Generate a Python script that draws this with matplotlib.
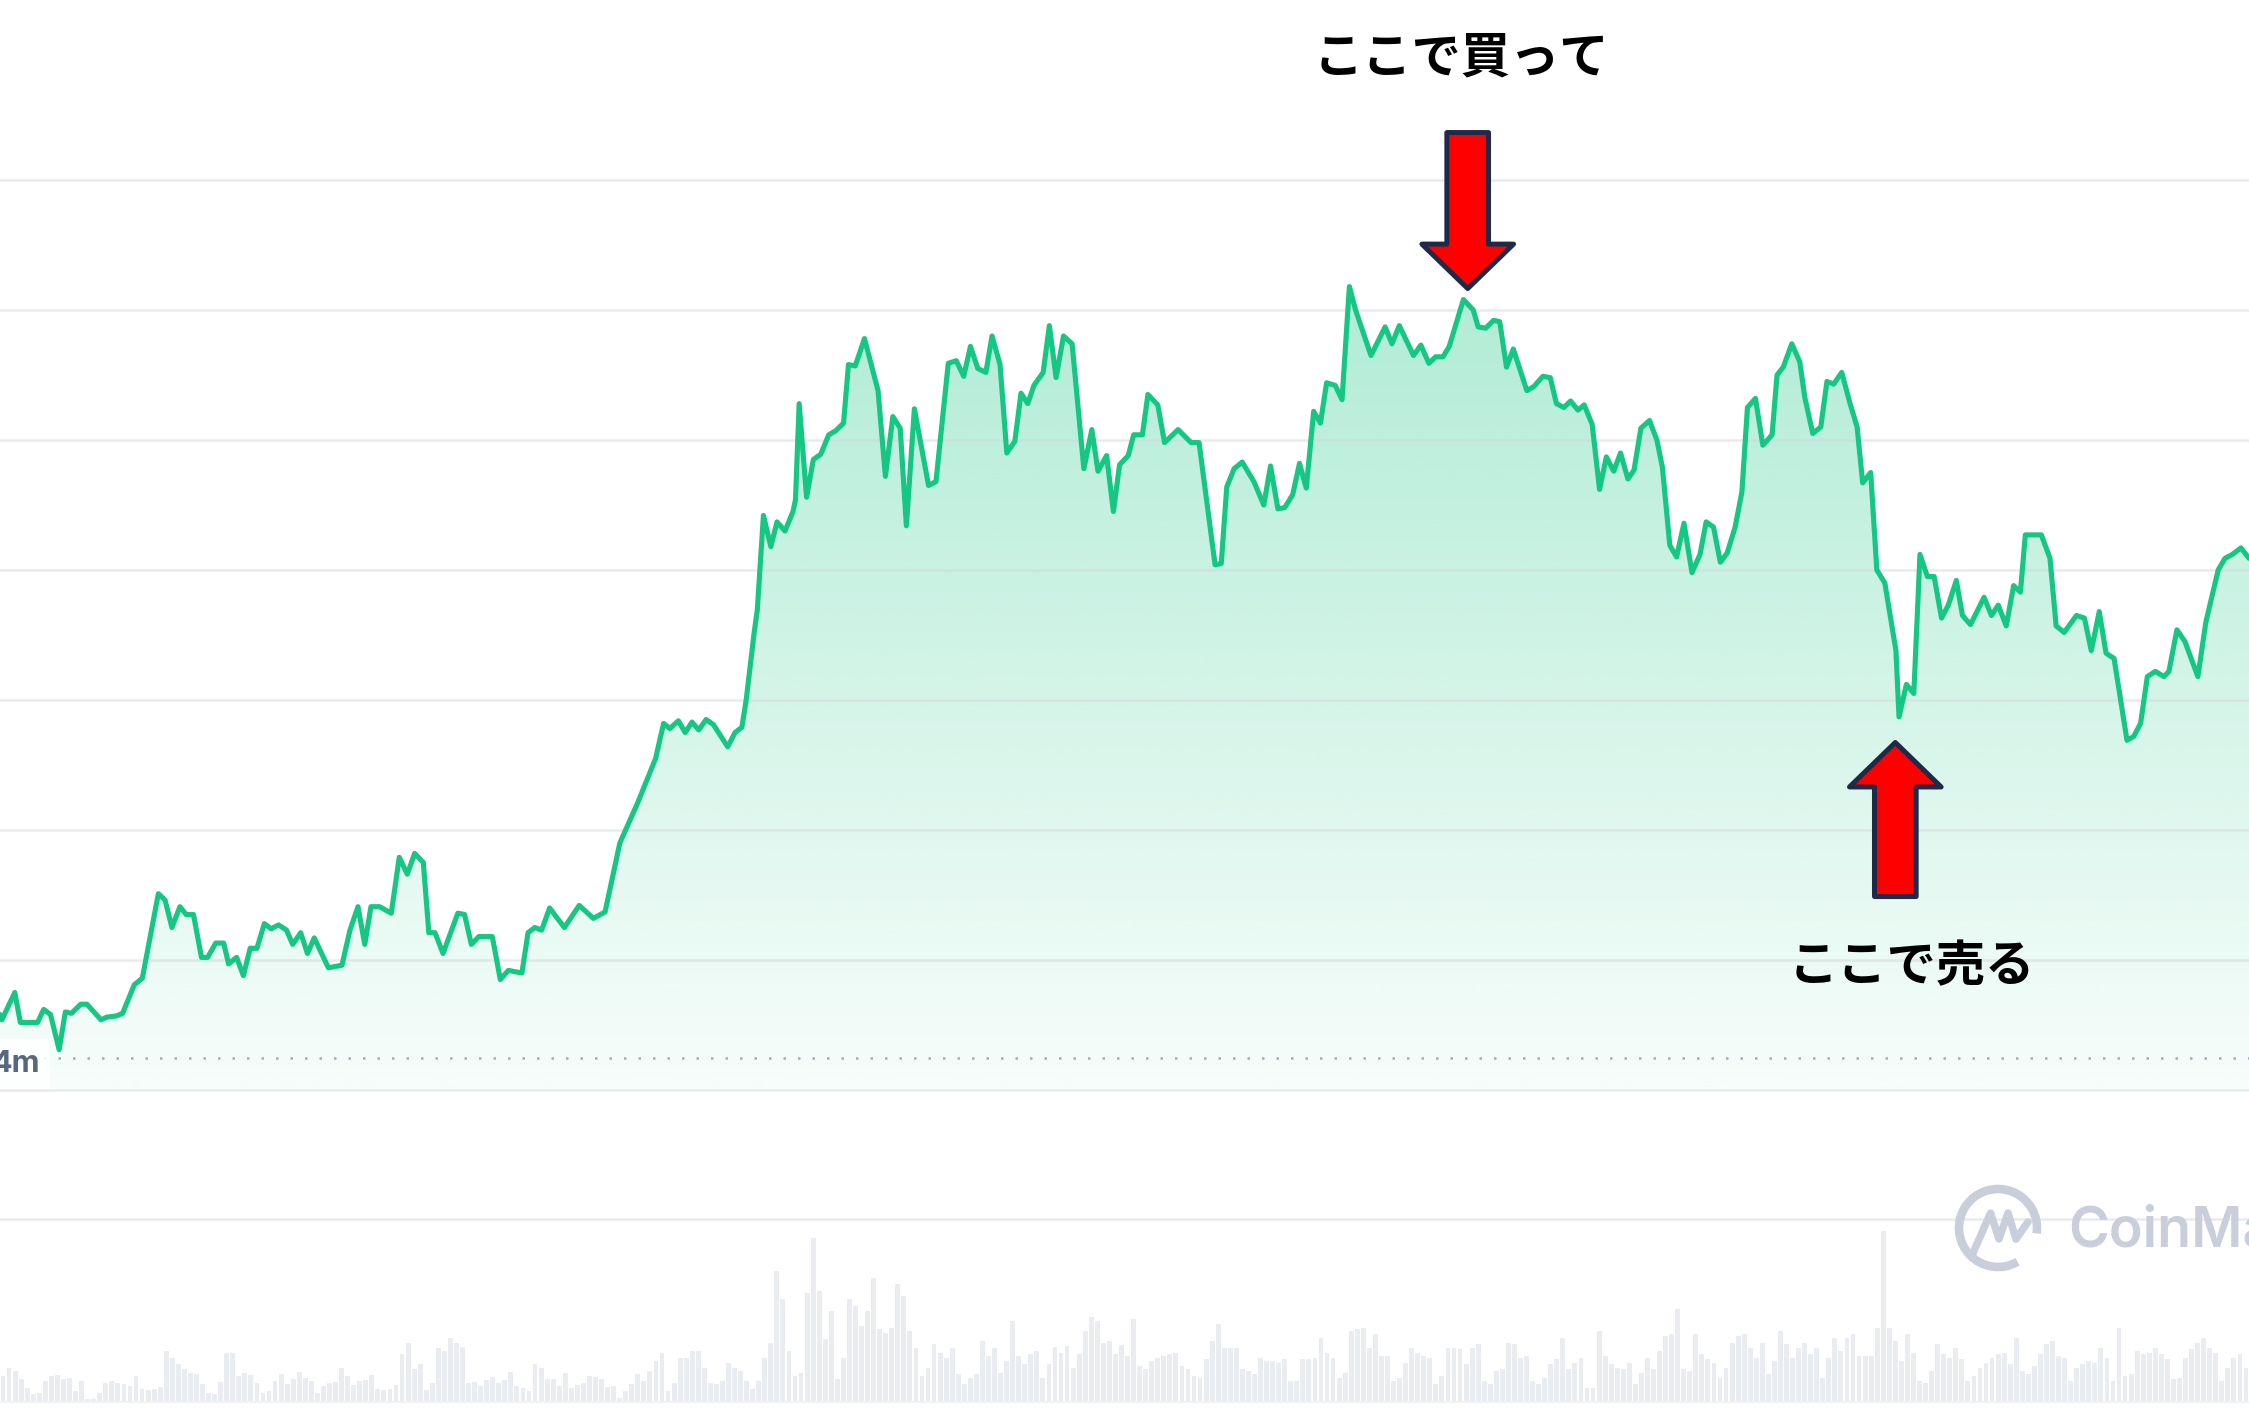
import numpy as np
import matplotlib
matplotlib.use("Agg")
import matplotlib.pyplot as plt
import matplotlib.transforms as mtransforms
from matplotlib.patches import Arc
from matplotlib.colors import to_rgb

plt.rcParams["font.family"] = ["Noto Sans CJK JP", "DejaVu Sans"]

# ---- price line (day index, price; grid lines every 1.0) ----
day = [0.0, 0.3, 2.4, 3.3, 6.1, 7.1, 8.2, 9.6, 10.6, 11.6, 13.1, 14.1, 16.4, 17.3, 18.9, 19.9,
       21.8, 23.1, 25.7, 26.8, 27.9, 29.2, 30.2, 31.4, 32.7, 33.7, 35.0, 36.3, 37.1, 38.4, 39.5,
       40.6, 41.7, 42.9, 44.0, 45.2, 46.5, 47.5, 48.8, 49.9, 51.0, 53.3, 55.5, 56.8, 58.1, 59.2,
       60.2, 61.6, 63.5, 64.8, 66.1, 67.3, 68.7, 69.6, 70.6, 71.9, 74.3, 75.4, 76.5, 77.7, 79.9,
       81.2, 82.5, 84.7, 85.7, 86.8, 87.9, 89.2, 91.6, 94.0, 96.3, 98.2, 100.6, 103.5, 106.4,
       107.7, 108.7, 110.1, 111.2, 112.3, 113.4, 114.6, 115.8, 118.1, 119.3, 120.4, 121.1, 122.4,
       122.9, 123.9, 125.1, 126.1, 127.4, 128.7, 129.1, 129.7, 130.9, 132.0, 133.2, 134.5, 135.6,
       136.9, 137.7, 138.8, 140.3, 142.5, 143.7, 144.9, 146.1, 147.1, 148.4, 150.7, 151.9, 153.9,
       155.2, 156.4, 157.5, 158.7, 160.0, 161.0, 162.3, 163.4, 164.7, 165.7, 166.8, 167.8, 169.3,
       170.3, 171.4, 172.6, 174.0, 175.9, 177.2, 178.2, 179.6, 180.7, 181.7, 183.1, 184.0, 185.4,
       186.3, 187.9, 189.0, 191.2, 193.3, 194.6, 197.2, 198.2, 199.1, 200.3, 201.6, 203.5, 205.1,
       206.2, 207.4, 208.5, 209.8, 210.9, 212.0, 213.2, 214.3, 215.3, 216.7, 217.8, 219.0, 220.0,
       222.5, 224.8, 225.9, 227.1, 229.4, 230.6, 231.9, 233.0, 234.2, 235.2, 237.5, 239.1, 239.9,
       241.1, 242.4, 243.4, 244.5, 245.6, 247.8, 248.9, 250.4, 251.6, 252.6, 253.8, 254.9, 256.1,
       257.1, 258.4, 259.6, 260.7, 261.9, 263.0, 264.2, 265.2, 266.3, 267.7, 268.9, 269.8, 271.0,
       272.1, 273.3, 274.6, 275.9, 276.9, 278.1, 279.2, 280.3, 281.6, 282.7, 283.6, 284.9, 286.1,
       287.6, 288.4, 289.4, 290.8, 292.1, 292.9, 294.2, 295.5, 296.5, 297.6, 298.9, 300.2, 301.4,
       302.3, 303.6, 304.6, 305.9, 307.7, 308.2, 309.4, 310.6, 311.6, 312.8, 313.9, 315.1, 316.2,
       317.5, 318.5, 319.8, 322.0, 323.2, 324.3, 325.6, 326.8, 327.9, 328.7, 331.3, 332.7, 333.7,
       335.0, 337.0, 338.3, 339.4, 340.7, 341.8, 343.1, 345.2, 346.3, 347.4, 348.5, 349.8, 351.2,
       352.0, 353.3, 354.6, 356.7, 358.0, 360.0, 361.1, 362.3, 363.7, 365.0]
price = [0.58, 0.54, 0.75, 0.52, 0.52, 0.62, 0.58, 0.31, 0.60, 0.59, 0.66, 0.66, 0.54, 0.56, 0.57, 0.59,
         0.81, 0.86, 1.51, 1.46, 1.25, 1.41, 1.35, 1.35, 1.02, 1.02, 1.13, 1.13, 0.97, 1.02, 0.88,
         1.09, 1.09, 1.28, 1.24, 1.27, 1.23, 1.12, 1.21, 1.05, 1.17, 0.94, 0.96, 1.23, 1.41, 1.12,
         1.41, 1.41, 1.36, 1.79, 1.66, 1.82, 1.75, 1.21, 1.21, 1.05, 1.36, 1.35, 1.12, 1.18, 1.18,
         0.85, 0.92, 0.90, 1.21, 1.25, 1.23, 1.40, 1.25, 1.42, 1.32, 1.37, 1.90, 2.21, 2.55,
         2.82, 2.78, 2.84, 2.75, 2.83, 2.77, 2.85, 2.81, 2.64, 2.75, 2.79, 3.00, 3.52,
         3.69, 4.42, 4.18, 4.37, 4.30, 4.45, 4.54, 5.28, 4.56, 4.85, 4.89, 5.04, 5.07,
         5.13, 5.58, 5.57, 5.78, 5.38, 4.72, 5.18, 5.09, 4.34, 5.24, 4.65, 4.68, 5.59,
         5.61, 5.49, 5.72, 5.55, 5.52, 5.80, 5.58, 4.90, 4.99, 5.36, 5.28, 5.42, 5.52,
         5.88, 5.48, 5.80, 5.74, 4.78, 5.08, 4.76, 4.88, 4.45, 4.81, 4.88, 5.04, 5.04,
         5.35, 5.27, 4.98, 5.08, 4.98, 4.98, 4.04, 4.05, 4.64, 4.78, 4.83, 4.68, 4.50,
         4.80, 4.47, 4.48, 4.58, 4.82, 4.63, 5.22, 5.13, 5.44, 5.42, 5.31, 6.18, 6.00,
         5.65, 5.87, 5.74, 5.88, 5.65, 5.73, 5.59, 5.64, 5.64, 5.72, 6.08, 6.00, 5.87,
         5.86, 5.92, 5.91, 5.56, 5.70, 5.38, 5.41, 5.49, 5.48, 5.28, 5.25, 5.30, 5.23,
         5.27, 5.12, 4.62, 4.87, 4.76, 4.90, 4.70, 4.77, 5.09, 5.15, 5.00, 4.79, 4.19,
         4.10, 4.36, 3.98, 4.12, 4.37, 4.33, 4.06, 4.13, 4.33, 4.60, 5.25, 5.32, 4.96,
         5.04, 5.50, 5.56, 5.74, 5.60, 5.33, 5.05, 5.10, 5.45, 5.43, 5.52, 5.29, 5.10,
         4.67, 4.75, 4.00, 3.90, 3.38, 2.87, 3.12, 3.05, 4.12, 3.95, 3.95, 3.63, 3.73,
         3.92, 3.65, 3.58, 3.79, 3.65, 3.73, 3.57, 3.88, 3.83, 4.27, 4.27, 4.09, 3.57,
         3.52, 3.65, 3.63, 3.38, 3.68, 3.36, 3.32, 2.69, 2.72, 2.82, 3.18, 3.22, 3.18,
         3.22, 3.54, 3.45, 3.18, 3.60, 4.00, 4.09, 4.12, 4.17, 4.09]
price_grid = [0, 1, 2, 3, 4, 5, 6, 7]
ref_level = 0.25
ref_label = "4m"

# ---- daily volume (same period, arbitrary units) ----
volume = [78, 101, 93, 68, 43, 23, 28, 63, 78, 81, 70,
          73, 33, 63, 8, 10, 28, 58, 63, 58, 53,
          48, 78, 38, 35, 38, 45, 153, 133, 113, 98, 88,
          83, 53, 28, 23, 60, 148, 148, 78, 88, 81, 58,
          28, 33, 63, 83, 55, 68, 91, 73, 63, 28, 48,
          58, 61, 103, 78, 50, 63, 65, 80, 38, 35, 38,
          51, 143, 178, 98, 113, 35, 58, 163, 153, 193,
          178, 165, 58, 60, 48, 66, 75, 58, 65, 91, 48,
          41, 33, 113, 103, 70, 68, 48, 88, 43, 51, 58,
          78, 75, 68, 45, 48, 13, 33, 55, 83, 63, 93,
          123, 148, 33, 58, 133, 133, 153, 153, 103, 58,
          53, 63, 118, 103, 93, 63, 38, 63, 133, 178,
          393, 308, 153, 78, 88, 328, 493, 333, 188, 273,
          68, 133, 308, 288, 228, 273, 373, 218, 208, 223,
          353, 318, 213, 163, 78, 103, 173, 148, 133, 163,
          83, 53, 73, 83, 183, 138, 163, 88, 123, 243,
          138, 113, 143, 153, 73, 115, 165, 148, 168, 103,
          143, 213, 255, 243, 178, 183, 143, 171, 138, 248,
          108, 98, 123, 133, 138, 143, 148, 108, 98, 78,
          73, 128, 183, 233, 163, 163, 163, 98, 93,
          83, 133, 123, 123, 118, 128, 63, 63,
          128, 128, 133, 193, 148, 133, 73, 88, 213,
          218, 223, 163, 203, 138, 138, 63, 73, 118, 163,
          148, 138, 133, 53, 78, 163, 163, 158,
          113, 163, 173, 63, 53, 93, 98, 178, 173,
          133, 138, 63, 53, 73, 113, 128, 193, 98,
          118, 133, 43, 43, 213, 138, 113, 103,
          98, 118, 53, 88, 133, 98, 153, 198, 203,
          278, 98, 93, 203, 143, 128, 118,
          73, 103, 178, 198, 203, 163, 133, 178,
          83, 123, 213, 173, 133, 163, 178, 143, 163,
          73, 133, 193, 153, 193, 203, 138, 138,
          138, 223, 513,
          223, 183, 123, 203, 148, 63, 58, 93, 173, 143,
          133, 163, 128, 63, 78, 103, 118, 133, 143, 148,
          113, 193, 93, 83, 108, 143, 173, 183, 138, 133,
          63, 103, 113, 123, 118, 163, 133, 63, 223, 78,
          83, 153, 143, 148, 163, 143, 128, 68, 73, 133,
          158, 178, 193, 163, 148, 63, 103, 133, 143, 103]
vol_grid = 549

# ---- annotations ----
buy_text = "ここで買って"
sell_text = "ここで売る"
buy_day, buy_tip, buy_tail = 238.2, 6.165, 7.365
sell_day, sell_tip, sell_tail = 307.6, 2.673, 1.488

GREEN = "#16c784"
GRID = "#d3d7db"
W, H, DPI = 2249, 1409, 100

fig = plt.figure(figsize=(W / DPI, H / DPI), dpi=DPI, facecolor="white")
ax = fig.add_axes([0, 1 - 1090 / H, 1, 1090 / H])
axv = fig.add_axes([0, 7 / H, 1, 183 / H])
for a in (ax, axv):
    a.axis("off")

# gradient fill under the line
poly = ax.fill_between(day, price, 0, facecolor="none", edgecolor="none")
grad = np.zeros((256, 1, 4))
grad[..., :3] = to_rgb(GREEN)
grad[:, 0, 3] = np.linspace(0.035, 0.34, 256)
img = ax.imshow(grad, extent=[0, 365, 0, 6.2], origin="lower", aspect="auto",
                zorder=1, interpolation="bilinear")
img.set_clip_path(poly.get_paths()[0], transform=ax.transData)
ax.set_xlim(0, 365)
ax.set_ylim(0, 1090 / 130)

for g in price_grid:
    ax.axhline(g, color=GRID, alpha=0.5, lw=1.8, zorder=2, clip_on=False)
ax.axhline(ref_level, color="#a3adbd", lw=1.8, linestyle=(0, (1, 4.8)), zorder=2)

ax.plot(day, price, color=GREEN, lw=3.7, zorder=4, solid_joinstyle="round",
        solid_capstyle="round")

trans = mtransforms.blended_transform_factory(ax.transAxes, ax.transData)
ax.text(-0.004, 0.2, ref_label, transform=trans, ha="left", va="center",
        fontsize=22, fontweight="bold", color="#58667e", family=["Inter", "DejaVu Sans"],
        bbox=dict(boxstyle="square,pad=0.35", fc="white", ec="none", alpha=0.85), zorder=6)

# block arrows + labels
arrow_kw = dict(arrowstyle="simple,head_length=32,head_width=66,tail_width=30",
                fc="#ff0000", ec="#1f2a48", lw=3.6, shrinkA=0, shrinkB=0, mutation_scale=1)
ax.annotate("", xy=(buy_day, buy_tip), xytext=(buy_day, buy_tail),
            arrowprops=arrow_kw, annotation_clip=False, zorder=7)
ax.annotate("", xy=(sell_day, sell_tip), xytext=(sell_day, sell_tail),
            arrowprops=arrow_kw, annotation_clip=False, zorder=7)
ax.text(237.1, 7.94, buy_text, ha="center", va="center", fontsize=35.5,
        fontweight="bold", color="black", zorder=8)
ax.text(310.3, 0.946, sell_text, ha="center", va="center", fontsize=35.5,
        fontweight="bold", color="black", zorder=8)

# volume bars
n = len(volume)
axv.bar(np.arange(n), volume, width=0.8, color="#e9edf2", linewidth=0, zorder=1)
axv.set_xlim(-0.5, n - 0.5)
axv.set_ylim(0, vol_grid)
axv.axhline(vol_grid, color=GRID, alpha=0.5, lw=1.8, clip_on=False, zorder=2)
axv.axhline(0, color="#f0f2f5", lw=1.5, clip_on=False, zorder=2)

# CoinMarketCap watermark
WM = "#c8cfdb"
axl = fig.add_axes([1948 / W, (H - 1228 - 50) / H, 100 / W, 100 / H])
axl.set_xlim(-1, 1)
axl.set_ylim(-1, 1)
axl.axis("off")
axl.add_patch(Arc((0, 0), 1.56, 1.56, theta1=-8, theta2=300, color=WM, lw=6.2))
axl.plot([-0.5, -0.15, 0.02, 0.2, 0.36, 0.6], [-0.5, 0.3, -0.22, 0.3, -0.22, 0.12],
         color=WM, lw=5.4, solid_capstyle="round", solid_joinstyle="round")
fig.text(2068 / W, 1 - 1231 / H, "CoinMarketCap", ha="left", va="center", fontsize=40,
         family=["Inter", "DejaVu Sans"], fontweight="semibold", color=WM)

fig.savefig("out.png", dpi=DPI, facecolor="white")
